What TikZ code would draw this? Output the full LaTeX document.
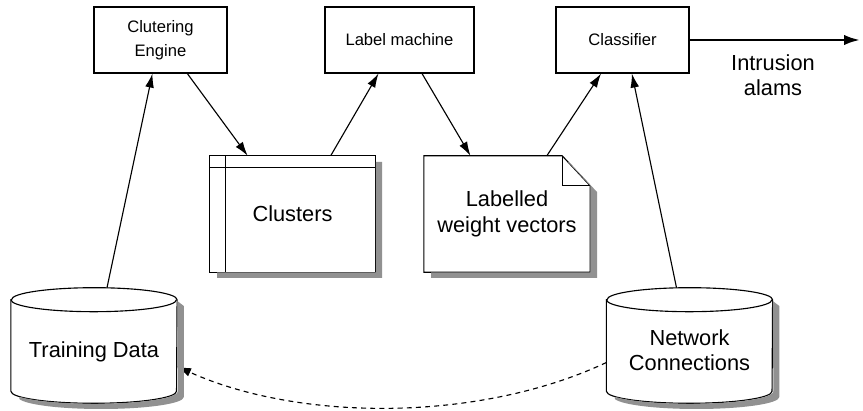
\documentclass[tikz,border=0pt]{standalone}
\usepackage{fontspec}
\setmainfont{Liberation Sans}
\usetikzlibrary{calc,arrows.meta}
\definecolor{shadowgray}{gray}{0.57}

\begin{document}
\begin{tikzpicture}[x=0.025cm, y=-0.025cm,
        small/.style={font=\fontsize{11.8}{17}\selectfont, align=center},
        big/.style={font=\fontsize{15.5}{18}\selectfont, align=center},
        box/.style={draw, line width=0.8pt, small},
        holder/.style={minimum width=4.14cm, minimum height=2.875cm},
        paper/.style={minimum width=4.14cm, minimum height=2.9cm},
        arr/.style={-{Latex[length=3.5mm,width=2.2mm]}, line width=0.8pt}]
        \useasboundingbox (0,0) rectangle (863,411);

        \node[paper] (clusters) at (292.5,214) {};
        \node[paper] (vectors) at (507,214) {};
        \node[holder] (training) at (94,345.5) {};
        \node[holder] (network) at (689.5,345.5) {};

        \draw[line width=0.8pt] (clusters.north west) rectangle (clusters.south east);
        \draw[line width=0.8pt] ($(clusters.north west)+(16,0)$) -- ($(clusters.south west)+(16,0)$);
        \draw[line width=0.8pt] ($(clusters.north west)+(0,12)$) -- ($(clusters.north east)+(0,12)$);

        \draw[line width=0.8pt] (vectors.north west) -- ([shift={(-28,0)}]vectors.north east)
            -- ([shift={(0,30)}]vectors.north east) -- (vectors.south east) -- (vectors.south west) -- cycle;
        \draw[line width=0.8pt] ([shift={(-28,0)}]vectors.north east) -- ([shift={(-28,30)}]vectors.north east)
            -- ([shift={(0,30)}]vectors.north east);

        \foreach \n in {training, network} {
            \draw[line width=0.8pt] ([shift={(0,12)}]\n.north west) -- ([shift={(0,-12)}]\n.south west)
                arc[start angle=180, end angle=360, x radius=2.07cm, y radius=0.3cm]
                -- ([shift={(0,12)}]\n.north east)
                arc[start angle=0, end angle=180, x radius=2.07cm, y radius=0.3cm] -- cycle;
            \draw[line width=0.8pt] ([shift={(0,12)}]\n.north west)
                arc[start angle=180, end angle=360, x radius=2.07cm, y radius=0.3cm];
        }

        \node[box, minimum width=3.325cm, minimum height=1.65cm] (engine) at (160.5,40) {Clutering\\Engine};
        \node[box, minimum width=3.725cm, minimum height=1.65cm] (labeller) at (399.5,40) {Label machine};
        \node[box, minimum width=3.325cm, minimum height=1.65cm] (classifier) at (622.5,40) {Classifier};

        \node[big] (clusterstext) at (clusters) {Clusters};
        \node[big] (vectorstext) at (vectors) {Labelled\\weight vectors};
        \node[big] (trainingtext) at (94,352) {Training Data};
        \node[big] (networktext) at (689.5,350) {Network\\Connections};

        \coordinate (alarm) at (860,40);
        \node[big] (alarmtext) at (773,75) {Intrusion\\alams};

        \draw[arr] ($(training.north)+(13,0)$) -- ($(engine.south west)!0.44!(engine.south east)$);
        \draw[arr] ($(engine.south west)!0.7!(engine.south east)$) -- ($(clusters.north west)!0.23!(clusters.north east)$);
        \draw[arr] ($(clusters.north west)!0.73!(clusters.north east)$) -- ($(labeller.south west)!0.36!(labeller.south east)$);
        \draw[arr] ($(labeller.south west)!0.65!(labeller.south east)$) -- ($(vectors.north west)!0.28!(vectors.north east)$);
        \draw[arr] ($(vectors.north west)!0.74!(vectors.north east)$) -- ($(classifier.south west)!0.34!(classifier.south east)$);
        \draw[arr] ($(network.north)+(-13,0)$) -- ($(classifier.south west)!0.57!(classifier.south east)$);
        \draw[-{Latex[length=4mm,width=2.6mm]}, line width=1.8pt] (classifier.east) -- (alarm);
        \draw[arr, dash pattern=on 3.5pt off 3pt] ($(network.west)+(0,17)$) .. controls (480,422) and (300,422) .. ($(training.east)+(0,21)$);

        \fill[shadowgray] (375.8,162) -- (382,162) -- (382,278) -- (217,278) -- (217,272.5) -- (375.8,272.5) -- cycle;
        \fill[shadowgray] (568,162) -- (569,162) -- (597,192) -- (597,278) -- (431,278) -- (431,272.5)
            -- (590.5,272.5) -- (590.5,186) -- cycle;
        \foreach \c in {94, 689.5} {
            \fill[shadowgray] ({\c+83.3},301) -- ({\c+89.8},306) -- ({\c+89.8},397)
                arc[start angle=0, end angle=-170, x radius=2.07cm, y radius=0.3cm]
                -- ({\c-74.5},396.8)
                arc[start angle=-154, end angle=0, x radius=2.085cm, y radius=0.31cm] -- cycle;
        }

    \end{tikzpicture}
\end{document}
